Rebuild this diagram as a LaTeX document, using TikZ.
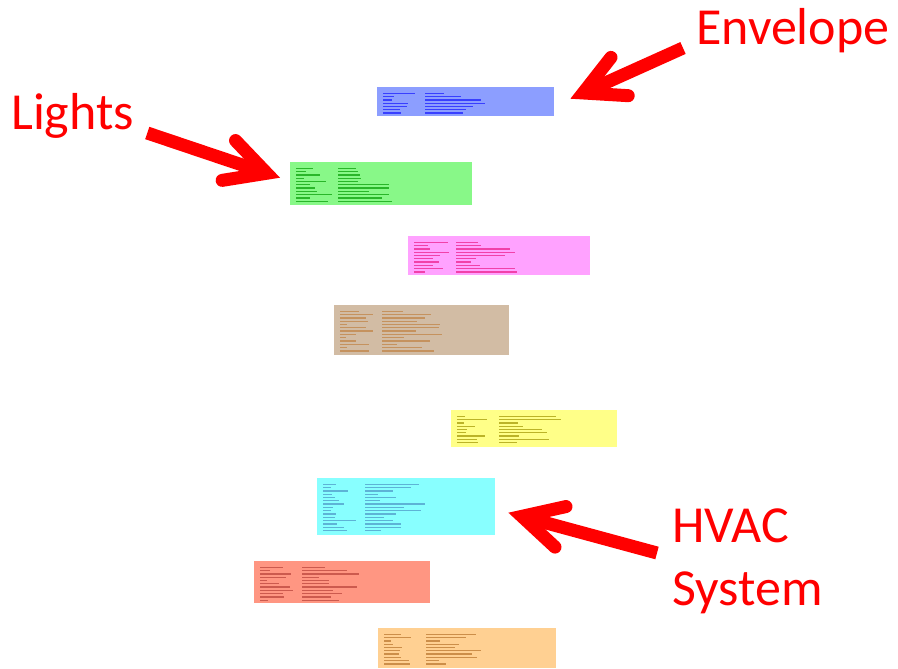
\documentclass[tikz,border=0pt]{standalone}
\usepackage{fontspec}
\setmainfont{Carlito}
\usetikzlibrary{arrows.meta,calc}

\definecolor{envblue}{RGB}{140,158,255}
\definecolor{lightgreen}{RGB}{136,248,136}
\definecolor{sheetpink}{RGB}{255,162,255}
\definecolor{sheettan}{RGB}{210,188,164}
\definecolor{sheetyellow}{RGB}{255,255,136}
\definecolor{hvaccyan}{RGB}{136,255,255}
\definecolor{sheetsalmon}{RGB}{255,150,130}
\definecolor{sheetorange}{RGB}{255,208,146}

\tikzset{
  sheet/.style={fill=#1, inner sep=0pt, anchor=north west},
  callout/.style={text=red, font=\fontsize{52}{63}\selectfont, inner sep=0pt, anchor=base west},
  pointer/.style={draw=red, line width=13pt,
    -{Straight Barb[length=40pt,width=42pt,line join=miter,line cap=round]}},
}
% rows of tiny print inside a sheet: node, rows, colour
\def\scribble#1#2#3{
  \foreach \k in {1,...,#2}{
    \pgfmathsetmacro\lw{6+rnd*30}
    \pgfmathsetmacro\rw{12+rnd*50}
    \draw[#3, line width=1.3pt] ($(#1.north west)+(6,3+3.3*\k)$) -- ++(\lw,0);
    \draw[#3, line width=1.3pt] ($(#1.north west)+(48,3+3.3*\k)$) -- ++(\rw,0);
  }
}

\begin{document}
\begin{tikzpicture}[x=1pt,y=-1pt]
			\useasboundingbox (0,0) rectangle (898,669);
			\pgfmathsetseed{7}
			
			%%%%% SHEETS %%%%%
			\node[sheet=envblue, minimum width=177, minimum height=29] (envelope) at (377,87) {};
			\node[sheet=lightgreen, minimum width=182, minimum height=43] (lights) at (290,162) {};
			\node[sheet=sheetpink, minimum width=182, minimum height=39] (pinksheet) at (408,236) {};
			\node[sheet=sheettan, minimum width=175, minimum height=50] (tansheet) at (334,305) {};
			\node[sheet=sheetyellow, minimum width=166, minimum height=37] (yellowsheet) at (451,410) {};
			\node[sheet=hvaccyan, minimum width=178, minimum height=57] (hvac) at (317,478) {};
			\node[sheet=sheetsalmon, minimum width=176, minimum height=42] (salmonsheet) at (254,561) {};
			\node[sheet=sheetorange, minimum width=178, minimum height=40] (orangesheet) at (378,628) {};
			
			\scribble{envelope}{7}{blue!60!envblue}
			\scribble{lights}{11}{green!60!black!70!lightgreen}
			\scribble{pinksheet}{10}{magenta!60!sheetpink}
			\scribble{tansheet}{13}{brown!70!sheettan}
			\scribble{yellowsheet}{9}{olive!60!sheetyellow}
			\scribble{hvac}{15}{cyan!70!black!50!hvaccyan}
			\scribble{salmonsheet}{11}{red!50!black!40!sheetsalmon}
			\scribble{orangesheet}{10}{orange!60!black!50!sheetorange}
			
			%%%%% LABELS %%%%%
			\node[callout] (envlabel) at (696,45) {Envelope};
			\node[callout] (lightslabel) at (11,130) {Lights};
			\node[callout, align=left] (hvaclabel) at (672,605) {HVAC\\System};
			
			%%%%% ARROWS %%%%%
			\draw[pointer] ([xshift=-13pt,yshift=-3pt]envlabel.base west) -- ([xshift=16pt,yshift=3pt]envelope.east);
			\draw[pointer] ([xshift=13pt,yshift=-3pt]lightslabel.base east) -- ([xshift=-10pt,yshift=6pt]lights.west);
			\draw[pointer] ([xshift=-15pt,yshift=52pt]hvaclabel.base west) -- ([xshift=13pt,yshift=-6pt]hvac.east);
		\end{tikzpicture}
\end{document}
